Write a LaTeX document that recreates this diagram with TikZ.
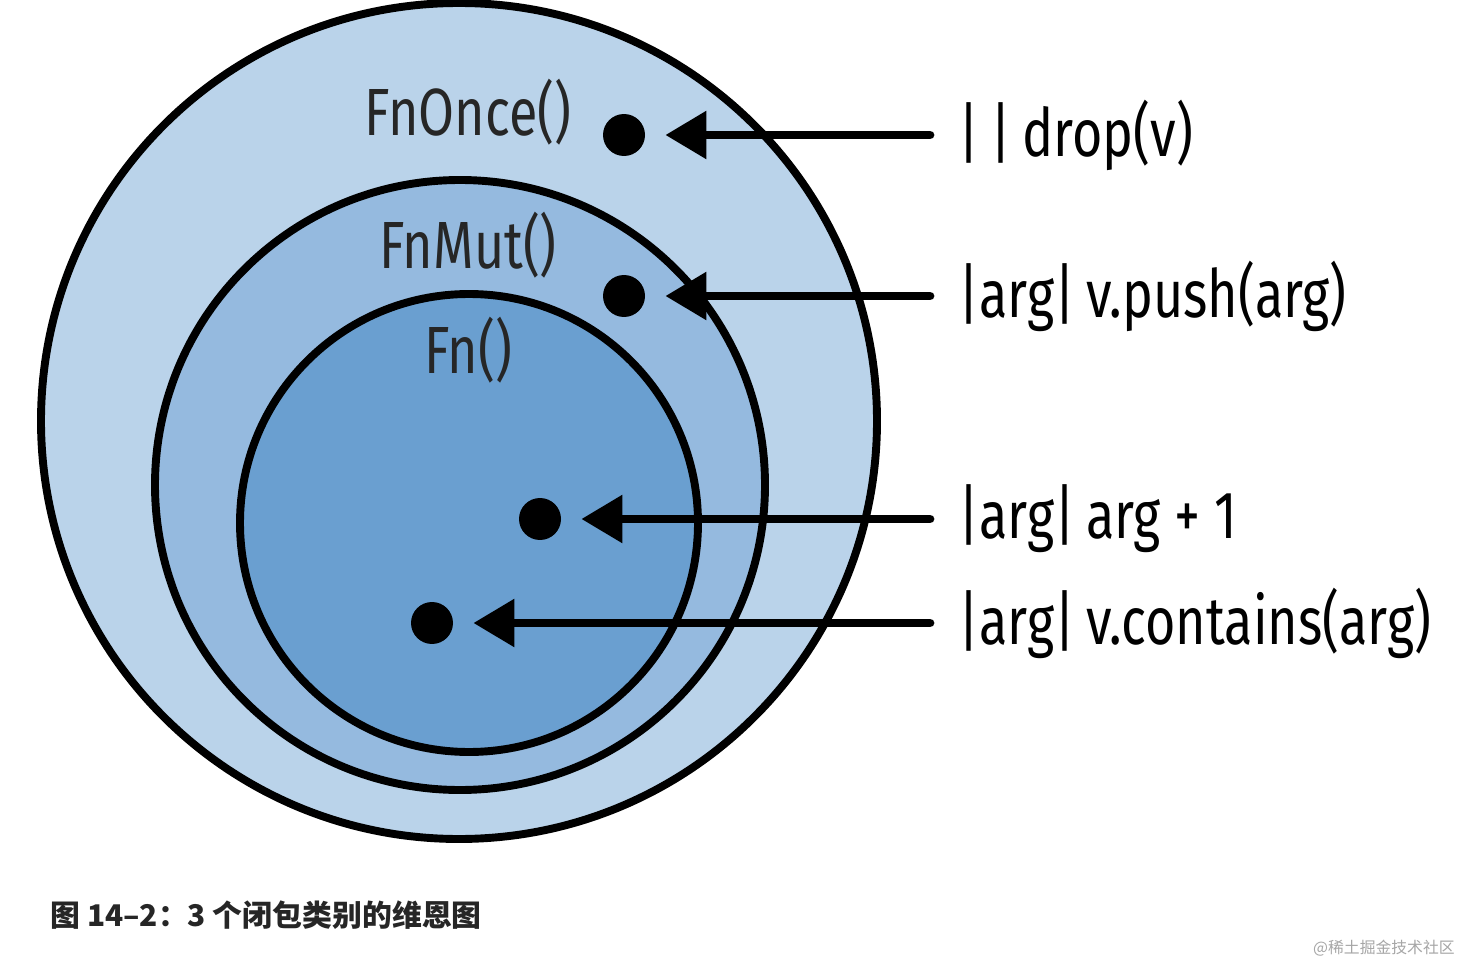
\documentclass[tikz,border=0pt]{standalone}
\usepackage{fontspec}
\setmainfont{Fira Sans}[FakeStretch=0.78]
\newfontfamily\cjk{Noto Sans CJK SC}
\usetikzlibrary{arrows.meta}
\definecolor{cA}{HTML}{BAD3EA}
\definecolor{cB}{HTML}{95BADF}
\definecolor{cC}{HTML}{6A9FD0}
\begin{document}
\begin{tikzpicture}[x=0.02cm,y=-0.02cm,
  ring/.style={line width=4.5pt,draw=black},
  dotn/.style={circle,fill=black,inner sep=0pt,minimum size=0.84cm},
  lbl/.style={anchor=west,font=\fontsize{38}{40}\selectfont,inner sep=0pt},
  ttl/.style={font=\fontsize{38}{40}\selectfont,text=black!85,inner sep=0pt},
  arr/.style={line width=5pt,line cap=round,-{Triangle[length=0.82cm,width=0.92cm]}}]
\useasboundingbox (0,0) rectangle (1464,966);
\fill[white] (0,0) rectangle (1464,966);
\draw[ring,fill=cA] (459,421) circle (418);
\draw[ring,fill=cB] (460,485) circle (305);
\draw[ring,fill=cC] (469,523) circle (229);
\node[ttl] (t1) at (468,112) {FnOnce()};
\node[ttl] (t2) at (468,245) {FnMut()};
\node[ttl] (t3) at (468,350) {Fn()};
\node[dotn] (d1) at (624,135) {};
\node[dotn] (d2) at (624,296) {};
\node[dotn] (d3) at (540,519) {};
\node[dotn] (d4) at (432,623) {};
\coordinate (s1) at (930,135);
\coordinate (s2) at (930,296);
\coordinate (s3) at (930,519);
\coordinate (s4) at (930,623);
\draw[arr] (s1) -- ([xshift=0.4cm]d1.east);
\draw[arr] (s2) -- ([xshift=0.4cm]d2.east);
\draw[arr] (s3) -- ([xshift=0.4cm]d3.east);
\draw[arr] (s4) -- ([xshift=0.4cm]d4.east);
\node[lbl] (l1) at (958,135) {|\,|\,drop(v)};
\node[lbl] (l2) at (958,296) {|arg|\,v.push(arg)};
\node[lbl] (l3) at (958,519) {|arg|\,arg + 1};
\node[lbl] (l4) at (958,623) {|arg|\,v.contains(arg)};
\node[anchor=west,inner sep=0pt,font=\cjk\bfseries\fontsize{17}{20}\selectfont,text=black!85] (cap) at (50,915) {图 14–2：3 个闭包类别的维恩图};
\node[anchor=east,inner sep=0pt,font=\cjk\fontsize{9}{11}\selectfont,text=black!35] (wm) at (1455,948) {@稀土掘金技术社区};
\end{tikzpicture}
\end{document}
